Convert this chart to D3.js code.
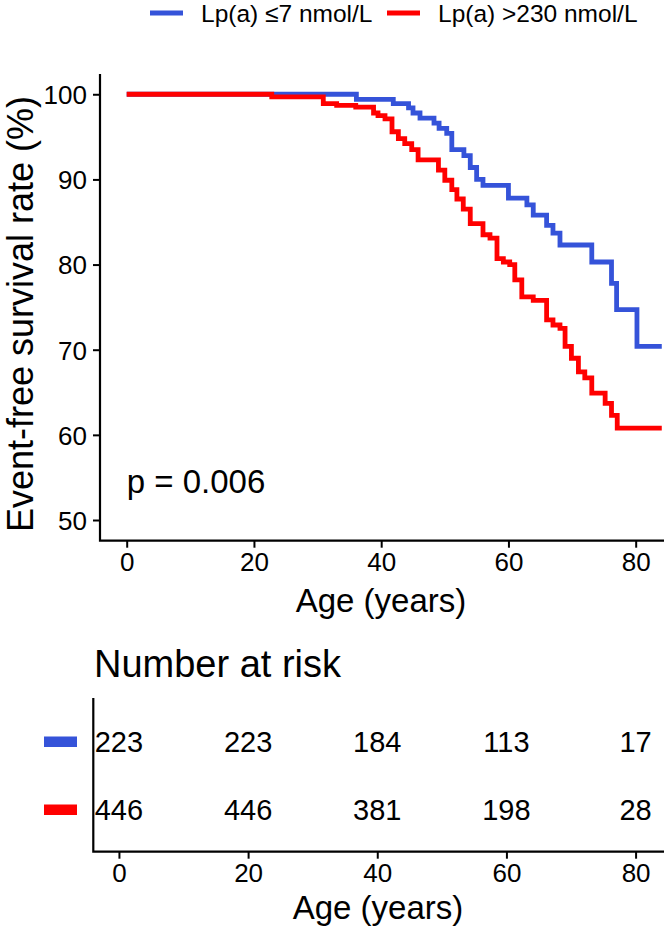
<!DOCTYPE html>
<html><head><meta charset="utf-8">
<script src="https://cdn.jsdelivr.net/npm/d3@7"></script>
<style>
html,body{margin:0;padding:0;background:#fff;}
text{font-family:"Liberation Sans",Arial,Helvetica,sans-serif;fill:#000;}
</style></head>
<body>
<script>
// ---- data ----
const groups = ["Lp(a) \u22647 nmol/L", "Lp(a) >230 nmol/L"];
const colors = ["#3553D9", "#FF0000"];
// step times (age, years) and survival (%) after each step
const blueTime = [0, 36.1, 41.9, 44.3, 45.0, 46.1, 48.3, 49.1, 50.3, 51.1, 53.0, 54.0, 55.0, 56.0, 60.0, 62.9, 63.9, 66.0, 67.0, 68.1, 73.1, 76.2, 77.0, 80.2, 84.1];
const blueSurv = [100, 99.4, 98.9, 98.4, 97.8, 97.2, 96.6, 96.0, 95.4, 93.5, 92.8, 91.4, 90.0, 89.3, 87.8, 87.0, 85.8, 84.6, 83.7, 82.3, 80.3, 77.8, 74.7, 70.4, 70.4];
const redTime = [0, 22.8, 30.9, 33.0, 36.0, 38.8, 39.5, 40.6, 41.7, 42.7, 43.7, 44.8, 45.8, 49.0, 50.0, 51.1, 51.9, 52.9, 54.0, 56.0, 57.1, 58.2, 59.2, 60.2, 61.0, 62.1, 63.9, 66.0, 67.0, 68.1, 68.9, 69.9, 71.0, 72.0, 73.1, 75.2, 76.2, 77.1, 84.1];
const redSurv = [100, 99.7, 98.9, 98.7, 98.5, 97.8, 97.5, 97.1, 95.6, 94.8, 94.2, 93.5, 92.3, 91.1, 89.9, 88.8, 87.7, 86.5, 84.8, 83.5, 83.1, 80.7, 80.3, 80.0, 78.2, 76.2, 75.8, 73.5, 72.9, 72.5, 70.4, 69.0, 67.4, 66.7, 64.9, 63.7, 62.3, 60.8, 60.8];
const xTicks = [0, 20, 40, 60, 80];
const yTicks = [50, 60, 70, 80, 90, 100];
const riskBlue = [223, 223, 184, 113, 17];
const riskRed = [446, 446, 381, 198, 28];
const pText = "p = 0.006";

// ---- drawing ----
const W = 664, H = 931;
const svg = d3.select("body").append("svg").attr("width", W).attr("height", H);

const x = d3.scaleLinear().domain([-4.196, 84.45]).range([100, 664]);
const y = d3.scaleLinear().domain([47.57, 102.38]).range([540.7, 74]);

// legend
const legX = [150, 387];
groups.forEach((g, i) => {
  svg.append("line").attr("x1", legX[i]).attr("x2", legX[i] + 33)
    .attr("y1", 13).attr("y2", 13).attr("stroke", colors[i]).attr("stroke-width", 5);
  svg.append("text").attr("x", legX[i] + 51).attr("y", 22).attr("font-size", 24.5).text(g);
});

// curves
const line = d3.line().x(d => x(d[0])).y(d => y(d[1])).curve(d3.curveStepAfter);
const series = [d3.zip(blueTime, blueSurv), d3.zip(redTime, redSurv)];
series.forEach((s, i) => {
  svg.append("path").datum(s).attr("d", line).attr("fill", "none")
    .attr("stroke", colors[i]).attr("stroke-width", 4.8).attr("stroke-linejoin", "miter").attr("stroke-linecap", "butt");
});

// axes (top panel)
const gy = svg.append("g").attr("transform", "translate(100,0)")
  .call(d3.axisLeft(y).tickValues(yTicks).tickSize(7).tickPadding(6));
gy.select(".domain").remove();
gy.selectAll(".tick line").attr("stroke", "#000").attr("stroke-width", 2);
gy.selectAll(".tick text").attr("font-size", 26).attr("font-family", null).attr("dy", "0.36em");
const gx = svg.append("g").attr("transform", "translate(0,540.7)")
  .call(d3.axisBottom(x).tickValues(xTicks).tickSize(7).tickPadding(5));
gx.select(".domain").remove();
gx.selectAll(".tick line").attr("stroke", "#000").attr("stroke-width", 2);
gx.selectAll(".tick text").attr("font-size", 26).attr("font-family", null);
svg.append("path").attr("d", "M100,74V540.7H664").attr("fill", "none").attr("stroke", "#000").attr("stroke-width", 2.2);

svg.append("text").attr("x", 381).attr("y", 612).attr("text-anchor", "middle").attr("font-size", 33).text("Age (years)");
svg.append("text").attr("transform", "translate(33,314) rotate(-90)").attr("text-anchor", "middle").attr("font-size", 36).text("Event-free survival rate (%)");
svg.append("text").attr("x", x(0)).attr("y", 493).attr("font-size", 33).text(pText);

// risk table
svg.append("text").attr("x", 94).attr("y", 677).attr("font-size", 38).text("Number at risk");
const xr = d3.scaleLinear().domain([-3.97, 84.4]).range([93.3, 664]);
const rowY = [742, 810];
[riskBlue, riskRed].forEach((r, i) => {
  r.forEach((v, j) => {
    svg.append("text").attr("x", xr(xTicks[j])).attr("y", rowY[i]).attr("dy", "0.36em")
      .attr("text-anchor", "middle").attr("font-size", 29).text(v);
  });
  svg.append("rect").attr("x", 44).attr("y", rowY[i] - 5.5).attr("width", 33).attr("height", 10.5).attr("fill", colors[i]);
});
const gxr = svg.append("g").attr("transform", "translate(0,851.7)")
  .call(d3.axisBottom(xr).tickValues(xTicks).tickSize(7).tickPadding(5));
gxr.select(".domain").remove();
gxr.selectAll(".tick line").attr("stroke", "#000").attr("stroke-width", 2);
gxr.selectAll(".tick text").attr("font-size", 26).attr("font-family", null);
svg.append("path").attr("d", "M93.3,698V851.7H664").attr("fill", "none").attr("stroke", "#000").attr("stroke-width", 2.2);
svg.append("text").attr("x", 378).attr("y", 919).attr("text-anchor", "middle").attr("font-size", 33).text("Age (years)");
</script>
</body></html>
